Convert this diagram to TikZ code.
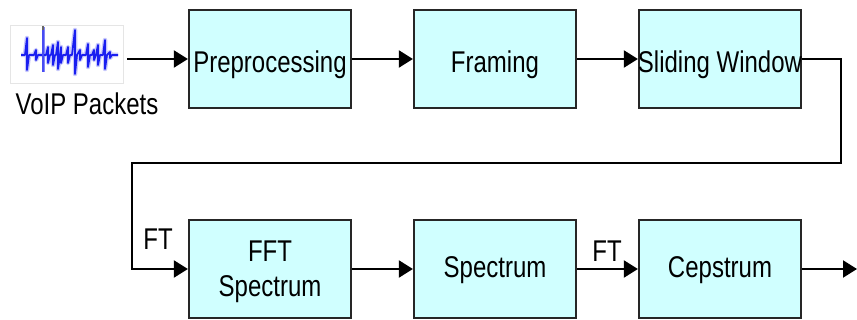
\documentclass[tikz,border=0pt]{standalone}
\usepackage{fontspec}
\setmainfont{Liberation Sans}[FakeStretch=0.8]
\usetikzlibrary{arrows.meta}
\definecolor{boxfill}{RGB}{208,255,255}
\definecolor{waveblue}{RGB}{25,30,240}
\begin{document}
\begin{tikzpicture}[x=1pt,y=-1pt,
  font=\fontsize{30}{36}\selectfont,
  stage/.style={draw=black!85,line width=2.2pt,fill=boxfill,minimum width=162pt,minimum height=98pt,inner sep=0pt,align=center},
  toptext/.style={text height=28pt,text depth=0pt},
  bottext/.style={text height=18pt,text depth=0pt},
  conn/.style={line width=2pt,-{Triangle[length=14pt,width=17pt]}},
  lbl/.style={inner sep=0pt},
  wavepath/.pic={
    \draw[line join=round,#1]
    (21,55) -- (25,55) -- (27,38) -- (27,70) -- (29,55) -- (34,55) -- (36,50) -- (36,60) -- (38,55) -- (41,55)
    -- (43,55) -- (46,55) -- (48,47) -- (48,63) -- (50,55) -- (51,55) -- (53,45) -- (53,65) -- (55,55)
    -- (56,55) -- (58,42) -- (58,69) -- (60,55) -- (61,47) -- (61,63) -- (63,55) -- (66,55)
    -- (68,47) -- (68,63) -- (70,55) -- (72,55) -- (75,30) -- (75,74) -- (77,55) -- (80,50) -- (80,60) -- (82,55) -- (86,55)
    -- (88,44) -- (88,67) -- (90,55) -- (92,55) -- (94,50) -- (94,60) -- (96,55)
    -- (98,45) -- (98,65) -- (100,55) -- (103,55) -- (105,40) -- (105,69) -- (107,55) -- (110,52) -- (110,58) -- (112,55) -- (118,55);
  }]
\useasboundingbox (0,0) rectangle (857,320);
% waveform picture
\node[draw=black!10,line width=0.6pt,minimum width=113pt,minimum height=58pt,inner sep=0pt] (wave) at (66.5,54.5) {};
\pic {wavepath={waveblue!25,line width=4.5pt}};
\draw[waveblue!55,line width=3pt] (43,27) -- (43,72);
\draw[black!60,line width=1.5pt] (43,26) -- (43,30);
\pic {wavepath={waveblue,line width=1.8pt}};
\draw[waveblue!80,line width=1.5pt] (43,30) -- (43,72);
\node[lbl,anchor=base] (voip) at (87,115) {VoIP Packets};
% stages
\node[stage,toptext] (pre) at (270,59) {\makebox[0pt][c]{Preprocessing}};
\node[stage,toptext] (frm) at (495,59) {Framing};
\node[stage,toptext] (sw) at (720,59) {\makebox[0pt][c]{Sliding Window}};
\node[stage] (fft) at (270,269) {};
\node[lbl,anchor=base] (fftA) at (270,262) {FFT};
\node[lbl,anchor=base] (fftB) at (270,297) {Spectrum};
\node[stage,bottext] (spec) at (495,269) {Spectrum};
\node[stage,bottext] (cep) at (720,269) {Cepstrum};
% connectors
\coordinate (src) at (127,59);
\coordinate (c1) at (841,163);
\coordinate (c2) at (132,163);
\coordinate (out) at (857,269);
\draw[conn] (src) -- (pre.west);
\draw[conn] (pre.east) -- (frm.west);
\draw[conn] (frm.east) -- (sw.west);
\draw[conn] (sw.east) -| (c1) -- (c2) |- (fft.west);
\draw[conn] (fft.east) -- (spec.west);
\draw[conn] (spec.east) -- (cep.west);
\draw[conn] (cep.east) -- (out);
\node[lbl,anchor=base] (ft1) at (158,250) {FT};
\node[lbl,anchor=base] (ft2) at (607,262) {FT};
\end{tikzpicture}
\end{document}
